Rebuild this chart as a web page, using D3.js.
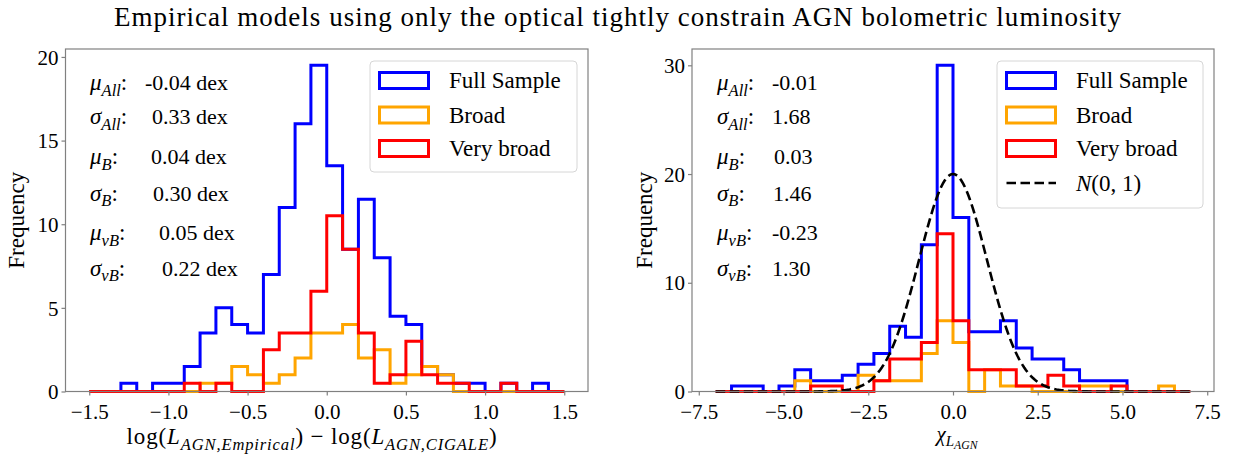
<!DOCTYPE html>
<html>
<head>
<meta charset="utf-8">
<script src="https://cdn.jsdelivr.net/npm/d3@7/dist/d3.min.js"></script>
<style>
  html, body { margin: 0; padding: 0; background: #fff; }
  svg { display: block; }
  text { font-family: "Liberation Serif", "DejaVu Serif", serif; fill: #000; }
</style>
</head>
<body>
<svg id="chart" width="1237" height="454"></svg>
<script>
// ---------------- DATA ----------------
const title = "Empirical models using only the optical tightly constrain AGN bolometric luminosity";
const seriesNames = ["Full Sample", "Broad", "Very broad"];
const seriesColors = ["#0000ff", "#ffa500", "#ff0000"];

// Left panel: log(L_emp) - log(L_cigale), 30 bins of 0.1 from -1.5 to 1.5
const leftBinStart = -1.5, leftBinWidth = 0.1;
const leftFull  = [0,0,0.5,0,0.5,0.5,1.5,3.5,5,4,3.5,7,11,16,19.5,13.5,8.5,11.5,8,4.5,4,1.5,1,0.5,0.5,0,0.5,0,0.5,0];
const leftBroad = [0,0,0,0,0,0,0,0.5,0.5,1.5,1,0.5,1,2,3.5,3.5,4,2,2.5,0.5,1,1.5,1,0,0,0,0,0,0,0];
const leftVery  = [0,0,0,0,0,0,0.5,0,0.5,0,0,2.5,3.5,3.5,6,10.5,8.5,3.5,0.5,1,3,1,0.5,0.5,0,0,0.5,0,0,0];
const leftXTicks = [-1.5,-1.0,-0.5,0.0,0.5,1.0,1.5];
const leftYTicks = [0,5,10,15,20];
const leftStats = [
  ["μ","All","-0.04 dex"], ["σ","All","0.33 dex"],
  ["μ","B","0.04 dex"],    ["σ","B","0.30 dex"],
  ["μ","vB","0.05 dex"],   ["σ","vB","0.22 dex"]
];

// Right panel: chi, 30 bins from -7 to 7
const rightBinStart = -7, rightBinWidth = 14/30;
const rightFull  = [0,0.5,0.5,0,0.5,2,1,1,1.5,2.5,3.5,6,5,13.5,30,16,5.5,5.5,6.5,4,3,3,2,1,1,1,0,0,0,0];
const rightBroad = [0,0,0,0,0,1,0,0,0,1.5,1,1,1,3.5,6.5,4.5,0,2,0.5,0.5,0,0,0,0.5,0.5,0,0,0,0.5,0];
const rightVery  = [0,0,0,0,0,0,0.5,0.5,0,0,1,3,3,4.5,14.5,6.5,2,2,2,0.5,0.5,1.5,0.5,0,0,0.5,0,0,0,0];
const rightXTicks = [-7.5,-5.0,-2.5,0.0,2.5,5.0,7.5];
const rightYTicks = [0,10,20,30];
const rightStats = [
  ["μ","All","-0.01"], ["σ","All","1.68"],
  ["μ","B","0.03"],    ["σ","B","1.46"],
  ["μ","vB","-0.23"],  ["σ","vB","1.30"]
];
const normalPeak = 20;     // height of the N(0,1) reference curve at 0
const normalRange = [-7, 7];

// ---------------- LAYOUT ----------------
const svg = d3.select("#chart");
const plotTop = 49, plotBottom = 391.5;
const spineColor = "#808080";
const serif = "'Liberation Serif', 'DejaVu Serif', serif";

function fmtTick(v) {
  const s = v.toFixed(1);
  return s.replace("-", "\u2212");
}

// Math-ish text: parts = [{t, it, lvl}]
function mathText(g, x, y, parts, size, anchor) {
  const t = g.append("text").attr("x", x).attr("y", y)
    .attr("font-size", size).attr("text-anchor", anchor || "start");
  let cur = 0;
  const off = [0, 0.24, 0.36];
  const sc = [1, 0.72, 0.56];
  parts.forEach(p => {
    const lvl = p.lvl || 0;
    const dy = (off[lvl] - off[cur]) * size;
    t.append("tspan").attr("dy", dy.toFixed(2))
      .attr("font-size", (size * sc[lvl]).toFixed(2))
      .attr("font-style", p.it ? "italic" : "normal")
      .text(p.t);
    cur = lvl;
  });
  return t;
}

function fitWidth(sel, target) {
  const n = sel.text().length;
  const w = sel.node().getComputedTextLength();
  sel.attr("letter-spacing", ((target - w) / Math.max(1, n - 1)).toFixed(3));
}

function histPath(edgesStart, width, vals, x, y) {
  const pts = [[edgesStart, 0]];
  vals.forEach((v, i) => {
    pts.push([edgesStart + i * width, v]);
    pts.push([edgesStart + (i + 1) * width, v]);
  });
  pts.push([edgesStart + vals.length * width, 0]);
  return d3.line().x(d => x(d[0])).y(d => y(d[1]))(pts);
}

function panel(cfg) {
  const x = d3.scaleLinear().domain(cfg.xDomain).range([cfg.left, cfg.right]);
  const y = d3.scaleLinear().domain(cfg.yDomain).range([plotBottom, plotTop]);
  const g = svg.append("g");

  // histograms
  const series = [cfg.full, cfg.broad, cfg.very];
  series.forEach((vals, i) => {
    g.append("path")
      .attr("d", histPath(cfg.binStart, cfg.binWidth, vals, x, y))
      .attr("fill", "none")
      .attr("stroke", seriesColors[i])
      .attr("stroke-width", 3)
      .attr("stroke-linejoin", "miter");
  });

  if (cfg.normal) {
    const xs = d3.range(0, 281).map(i => cfg.normal[0] + i * (cfg.normal[1] - cfg.normal[0]) / 280);
    g.append("path")
      .attr("d", d3.line().x(d => x(d)).y(d => y(normalPeak * Math.exp(-d * d / 2)))(xs))
      .attr("fill", "none").attr("stroke", "#000").attr("stroke-width", 2.6)
      .attr("stroke-dasharray", "9.5,4.5");
  }

  // spines
  g.append("rect").attr("x", cfg.left).attr("y", plotTop)
    .attr("width", cfg.right - cfg.left).attr("height", plotBottom - plotTop)
    .attr("fill", "none").attr("stroke", spineColor).attr("stroke-width", 1.2);

  // axes
  const xa = g.append("g").attr("transform", `translate(0,${plotBottom})`)
    .call(d3.axisBottom(x).tickValues(cfg.xTicks).tickFormat(fmtTick).tickSize(4).tickPadding(4));
  const ya = g.append("g").attr("transform", `translate(${cfg.left},0)`)
    .call(d3.axisLeft(y).tickValues(cfg.yTicks).tickFormat(d3.format("d")).tickSize(4).tickPadding(3));
  [xa, ya].forEach(a => {
    a.attr("font-family", null).attr("font-size", null);
    a.select(".domain").remove();
    a.selectAll(".tick line").attr("stroke", spineColor).attr("stroke-width", 1.2);
    a.selectAll(".tick text").attr("font-size", 21).attr("fill", "#000")
      .style("font-family", serif);
  });
  xa.selectAll(".tick text").attr("dy", "0.95em");
  ya.selectAll(".tick text").attr("dy", "0.34em");

  // y label
  g.append("text").attr("transform", `translate(${cfg.ylabelX},${(plotTop + plotBottom) / 2}) rotate(-90)`)
    .attr("text-anchor", "middle").attr("font-size", 23).text("Frequency");

  // stats
  const baseY = [90, 124, 164, 200.5, 240, 275.5];
  cfg.stats.forEach((s, i) => {
    mathText(g, cfg.statX, baseY[i], [
      { t: s[0], it: true }, { t: s[1], it: true, lvl: 1 }, { t: ":", lvl: 0 }
    ], 23);
    g.append("text").attr("x", cfg.valX[i]).attr("y", baseY[i]).attr("font-size", 22).text(s[2]);
  });

  // legend
  const lg = g.append("g");
  lg.append("rect").attr("x", cfg.legX).attr("y", 61).attr("width", cfg.legW).attr("height", cfg.legH)
    .attr("rx", 4).attr("fill", "#fff").attr("fill-opacity", 0.8)
    .attr("stroke", "#d6d6d6").attr("stroke-width", 1);
  const rowY = [80, 114.5, 148, 183];
  seriesNames.forEach((n, i) => {
    lg.append("rect").attr("x", cfg.legX + 9.5).attr("y", rowY[i] - 7.5).attr("width", 49).attr("height", 16)
      .attr("fill", "none").attr("stroke", seriesColors[i]).attr("stroke-width", 3);
    lg.append("text").attr("x", cfg.legX + 79).attr("y", rowY[i] + 8).attr("font-size", 23).text(n);
  });
  if (cfg.normal) {
    lg.append("line").attr("x1", cfg.legX + 9.5).attr("x2", cfg.legX + 59)
      .attr("y1", rowY[3]).attr("y2", rowY[3])
      .attr("stroke", "#000").attr("stroke-width", 2.6).attr("stroke-dasharray", "9.5,4.5");
    mathText(lg, cfg.legX + 79, rowY[3] + 8, [
      { t: "N", it: true }, { t: "(0, 1)" }
    ], 23);
  }

  // x label
  const xl = mathText(g, cfg.xlabelX, cfg.xlabelY, cfg.xlabel, cfg.xlabelSize || 23, "middle");
  if (cfg.xlabelW) fitWidth(xl, cfg.xlabelW);
}

panel({
  left: 65.5, right: 588, xDomain: [-1.65, 1.65], yDomain: [0, 20.475],
  binStart: leftBinStart, binWidth: leftBinWidth,
  full: leftFull, broad: leftBroad, very: leftVery,
  xTicks: leftXTicks, yTicks: leftYTicks, ylabelX: 24,
  stats: leftStats, statX: 90, valX: [145, 152, 151, 153, 159, 162],
  legX: 370, legW: 207, legH: 111,
  xlabel: [
    { t: "log(" }, { t: "L", it: true }, { t: "AGN,Empirical", it: true, lvl: 1 },
    { t: ") \u2212 log(", lvl: 0 }, { t: "L", it: true }, { t: "AGN,CIGALE", it: true, lvl: 1 },
    { t: ")", lvl: 0 }
  ],
  xlabelX: 312, xlabelY: 444, xlabelW: 370
});

panel({
  left: 692, right: 1214, xDomain: [-7.7, 7.7], yDomain: [0, 31.5],
  binStart: rightBinStart, binWidth: rightBinWidth,
  full: rightFull, broad: rightBroad, very: rightVery,
  xTicks: rightXTicks, yTicks: rightYTicks, ylabelX: 652,
  stats: rightStats, statX: 717, valX: [772, 772, 774, 773, 772, 772],
  legX: 997, legW: 206, legH: 147,
  normal: normalRange,
  xlabel: [
    { t: "\u03c7", it: true }, { t: "L", it: true, lvl: 1 }, { t: "AGN", it: true, lvl: 2 }
  ],
  xlabelX: 957, xlabelY: 441, xlabelSize: 21
});

// title
const tt = svg.append("text").attr("x", 618).attr("y", 26).attr("text-anchor", "middle")
  .attr("font-size", 27).text(title);
fitWidth(tt, 1007);
</script>
</body>
</html>
